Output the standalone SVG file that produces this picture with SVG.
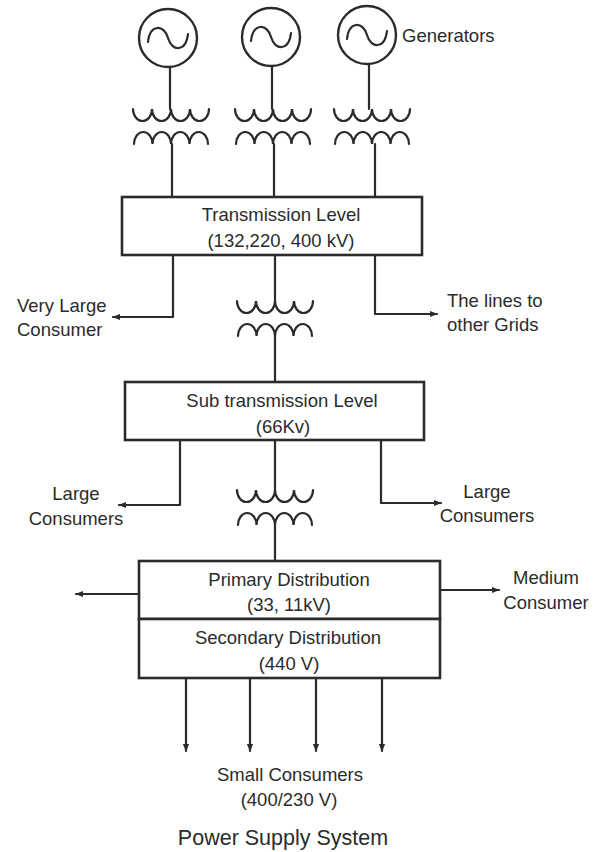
<svg xmlns="http://www.w3.org/2000/svg" width="607" height="852" viewBox="0 0 607 852">
<style>
  .ln{fill:none;stroke:#2b2b2b;stroke-width:2.2;stroke-linecap:round;stroke-linejoin:round}
  .box{fill:#ffffff;stroke:#2b2b2b;stroke-width:2.6}
  .gen{fill:#ffffff;stroke:#2b2b2b;stroke-width:2.4}
  .coil{fill:none;stroke:#2b2b2b;stroke-width:2.2;stroke-linecap:round}
  .t{font-family:"Liberation Sans",Arial,sans-serif;font-size:18.5px;fill:#2b2b2b}
  .c{text-anchor:middle}
  .title{font-size:21.5px}
</style>
<defs>
  <marker id="ah" viewBox="0 0 10 10" refX="9" refY="5" markerWidth="8" markerHeight="8" markerUnits="userSpaceOnUse" orient="auto">
    <path d="M0,1 L10,5 L0,9 Z" fill="#2b2b2b"/>
  </marker>
  <g id="xf">
    <path class="coil" d="M-38,-17.5 a9.5,12 0 0 0 19,0 a9.5,12 0 0 0 19,0 a9.5,12 0 0 0 19,0 a9.5,12 0 0 0 19,0"/>
    <path class="coil" d="M-37,17.5 a9.25,12 0 0 1 18.5,0 a9.25,12 0 0 1 18.5,0 a9.25,12 0 0 1 18.5,0 a9.25,12 0 0 1 18.5,0"/>
  </g>
  <g id="gsym">
    <circle class="gen" r="29"/>
    <path class="coil" d="M-20,4 C-18,-14 -4,-14 0,0 C4,14 18,14 20,-4"/>
  </g>
</defs>

<g id="connectors">
  <!-- generators to transmission -->
  <path class="ln" d="M170,67 V109 M172,144 V197"/>
  <path class="ln" d="M272,66 V109 M274,144 V197"/>
  <path class="ln" d="M369,64 V109 M375,144 V197"/>
  <!-- transmission branches -->
  <path class="ln" d="M173,255 V317 H113" marker-end="url(#ah)"/>
  <path class="ln" d="M375,255 V314 H437" marker-end="url(#ah)"/>
  <path class="ln" d="M275,255 V301 M275,336 V382"/>
  <!-- sub transmission branches -->
  <path class="ln" d="M180,440 V505 H119" marker-end="url(#ah)"/>
  <path class="ln" d="M381,440 V503 H441" marker-end="url(#ah)"/>
  <path class="ln" d="M275,440 V490 M275,525 V562"/>
  <!-- primary side branches -->
  <path class="ln" d="M139,594 H76" marker-end="url(#ah)"/>
  <path class="ln" d="M440,590 H499" marker-end="url(#ah)"/>
  <!-- secondary to small consumers -->
  <path class="ln" d="M186,678 V751" marker-end="url(#ah)"/>
  <path class="ln" d="M250,678 V751" marker-end="url(#ah)"/>
  <path class="ln" d="M316,678 V751" marker-end="url(#ah)"/>
  <path class="ln" d="M382,678 V751" marker-end="url(#ah)"/>
</g>

<g id="gen1"><use href="#gsym" x="168" y="38"/></g>
<g id="gen2"><use href="#gsym" x="271" y="37"/></g>
<g id="gen3"><use href="#gsym" x="367" y="35"/></g>
<g id="generators-label"><text class="t" x="402" y="42">Generators</text></g>

<g id="tx1"><use href="#xf" x="171" y="126.5"/></g>
<g id="tx2"><use href="#xf" x="273" y="126.5"/></g>
<g id="tx3"><use href="#xf" x="372" y="126.5"/></g>

<g id="transmission">
  <rect class="box" x="122" y="197" width="300" height="58"/>
  <text class="t c" x="281" y="221">Transmission Level</text>
  <text class="t c" x="281" y="247">(132,220, 400 kV)</text>
</g>

<g id="very-large"><text class="t" x="17" y="312">Very Large</text><text class="t" x="17" y="336">Consumer</text></g>
<g id="other-grids"><text class="t" x="447" y="307">The lines to</text><text class="t" x="447" y="331">other Grids</text></g>

<g id="tx4"><use href="#xf" x="275" y="318.5"/></g>

<g id="subtransmission">
  <rect class="box" x="125" y="382" width="299" height="58"/>
  <text class="t c" x="282" y="407">Sub transmission Level</text>
  <text class="t c" x="283" y="433">(66Kv)</text>
</g>

<g id="large-left"><text class="t c" x="76" y="500">Large</text><text class="t c" x="76" y="525">Consumers</text></g>
<g id="large-right"><text class="t c" x="487" y="498">Large</text><text class="t c" x="487" y="522">Consumers</text></g>

<g id="tx5"><use href="#xf" x="275" y="507.5"/></g>

<g id="primary">
  <rect class="box" x="139" y="561" width="301" height="58"/>
  <text class="t c" x="289" y="586">Primary Distribution</text>
  <text class="t c" x="289" y="611">(33, 11kV)</text>
</g>
<g id="medium"><text class="t c" x="546" y="584">Medium</text><text class="t c" x="546" y="609">Consumer</text></g>

<g id="secondary">
  <rect class="box" x="139" y="619" width="301" height="59"/>
  <text class="t c" x="288" y="644">Secondary Distribution</text>
  <text class="t c" x="289" y="670">(440 V)</text>
</g>

<g id="small"><text class="t c" x="290" y="781">Small Consumers</text><text class="t c" x="289" y="806">(400/230 V)</text></g>
<g id="caption"><text class="t c title" x="283" y="845">Power Supply System</text></g>
</svg>
